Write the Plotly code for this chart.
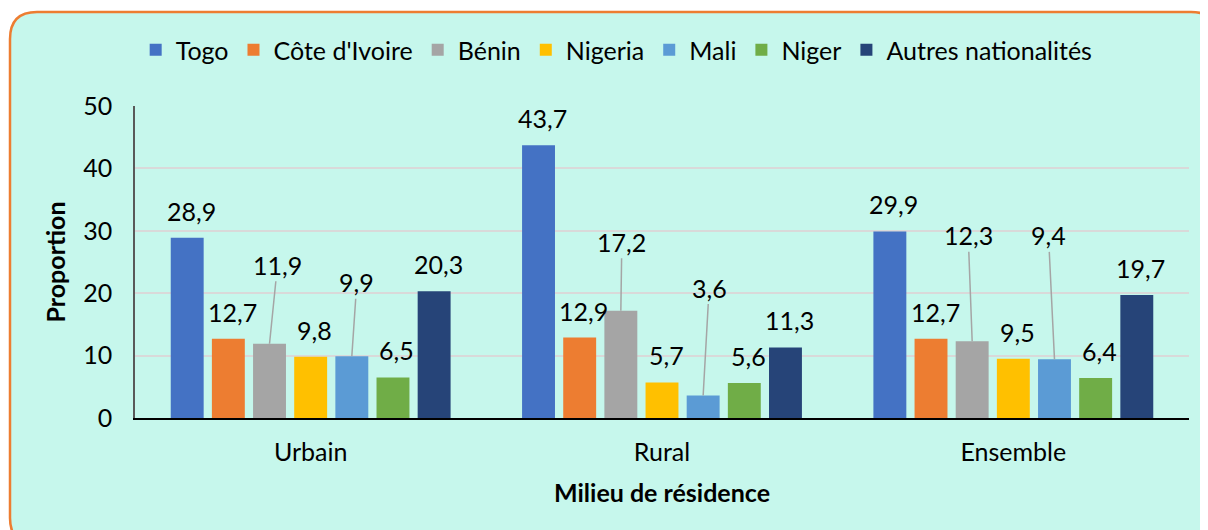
import plotly.graph_objects as go

categories = ["Urbain", "Rural", "Ensemble"]
series_names = ["Togo", "Côte d'Ivoire", "Bénin", "Nigeria", "Mali", "Niger", "Autres nationalités"]
togo = [28.9, 43.7, 29.9]
cote_ivoire = [12.7, 12.9, 12.7]
benin = [11.9, 17.2, 12.3]
nigeria = [9.8, 5.7, 9.5]
mali = [9.9, 3.6, 9.4]
niger = [6.5, 5.6, 6.4]
autres = [20.3, 11.3, 19.7]
y_ticks = [0, 10, 20, 30, 40, 50]

series_values = [togo, cote_ivoire, benin, nigeria, mali, niger, autres]
colors = ["#4472C4", "#ED7D31", "#A5A5A5", "#FFC000", "#5B9BD5", "#70AD47", "#264478"]

FONT = "Lato, 'Noto Sans', sans-serif"
FS = 25
BARGAP = 0.18
BARGROUPGAP = 0.2

fig = go.Figure()
xpos = list(range(len(categories)))
for name, vals, col in zip(series_names, series_values, colors):
    fig.add_trace(go.Bar(x=xpos, y=vals, name=name, marker=dict(color=col, line=dict(width=0))))

def fmt(v):
    return f"{v:.1f}".replace(".", ",")

# leader-line labels: (series index, category index) -> (ax, ay) pixel offset
leader = {
    (2, 0): (8, -79),
    (4, 0): (5, -74),
    (2, 1): (1, -69),
    (4, 1): (6, -108),
    (2, 2): (-4, -106),
    (4, 2): (-6, -124),
}

n = len(series_names)
slot = (1 - BARGAP) / n
annotations = []
for i, vals in enumerate(series_values):
    for g, v in enumerate(vals):
        xc = g + (i - (n - 1) / 2) * slot
        if (i, g) in leader:
            ax, ay = leader[(i, g)]
            annotations.append(dict(
                x=xc, y=v, xref="x", yref="y", text=fmt(v), showarrow=True,
                arrowhead=0, arrowwidth=1.5, arrowcolor="#A5A5A5", ax=ax, ay=ay,
                standoff=0, font=dict(size=FS, color="#000000", family=FONT)))
        else:
            annotations.append(dict(
                x=xc, y=v, xref="x", yref="y", text=fmt(v), showarrow=False,
                xshift=4, yshift=27, yanchor="middle",
                font=dict(size=FS, color="#000000", family=FONT)))

# page has an 8px body margin: figure is placed at (8, 8)
OFF = 8
L, T, W, H = 135 - OFF, 106 - OFF, 1054, 312
FIG_W, FIG_H = 1208 - OFF, 530 - OFF
def px(x):
    return (x - OFF - L) / W
def py(y):
    return (T + H - (y - OFF)) / H
x0, x1, y0, y1, r = 10, 1218, 12, 545, 27
fill_path = (f"M {px(x0+r)},{py(y0)} L {px(x1-r)},{py(y0)} Q {px(x1)},{py(y0)} {px(x1)},{py(y0+r)} "
             f"L {px(x1)},{py(y1-r)} Q {px(x1)},{py(y1)} {px(x1-r)},{py(y1)} "
             f"L {px(x0+r)},{py(y1)} Q {px(x0)},{py(y1)} {px(x0)},{py(y1-r)} "
             f"L {px(x0)},{py(y0+r)} Q {px(x0)},{py(y0)} {px(x0+r)},{py(y0)} Z")
stroke_path = (f"M {px(x1)},{py(y0+r)} Q {px(x1)},{py(y0)} {px(x1-r)},{py(y0)} "
               f"L {px(x0+r)},{py(y0)} Q {px(x0)},{py(y0)} {px(x0)},{py(y0+r)} "
               f"L {px(x0)},{py(y1-r)} Q {px(x0)},{py(y1)} {px(x0+r)},{py(y1)} "
               f"L {px(x1-r)},{py(y1)}")

fig.update_layout(
    width=FIG_W, height=FIG_H,
    margin=dict(l=L, r=FIG_W - L - W, t=T, b=FIG_H - T - H),
    paper_bgcolor="#FFFFFF",
    plot_bgcolor="rgba(0,0,0,0)",
    barmode="group", bargap=BARGAP, bargroupgap=BARGROUPGAP,
    font=dict(family=FONT, size=FS, color="#000000"),
    shapes=[
        dict(type="path", path=fill_path, xref="paper", yref="paper",
             fillcolor="#C6F7EC", line=dict(width=0), layer="below"),
        dict(type="path", path=stroke_path, xref="paper", yref="paper",
             fillcolor="rgba(0,0,0,0)", line=dict(color="#ED7D31", width=2.5), layer="below"),
    ],
    annotations=annotations,
    legend=dict(orientation="h", x=0.457, xanchor="center", y=(T + H - (50 - OFF)) / H, yanchor="middle",
                font=dict(size=FS, family=FONT), bgcolor="rgba(0,0,0,0)",
                traceorder="normal", itemclick=False),
    xaxis=dict(
        tickmode="array", tickvals=xpos, ticktext=categories, range=[-0.5, 2.5],
        showgrid=False, showline=True, linecolor="#000000", linewidth=1.5,
        ticks="", ticklabelstandoff=11, zeroline=False,
        tickfont=dict(size=FS, family=FONT),
        title=dict(text="<b>Milieu de résidence</b>", standoff=20, font=dict(size=FS, family=FONT)),
    ),
    yaxis=dict(
        range=[0, 50], tickmode="array", tickvals=y_ticks,
        showgrid=True, gridcolor="#D9D9D9", gridwidth=1.5,
        showline=True, linecolor="#595959", linewidth=1.5, zeroline=False,
        ticks="", ticklabelstandoff=16, tickfont=dict(size=FS, family=FONT),
        title=dict(text="<b>Proportion</b>", standoff=10, font=dict(size=FS, family=FONT)),
    ),
)

fig.write_html("out.html")
